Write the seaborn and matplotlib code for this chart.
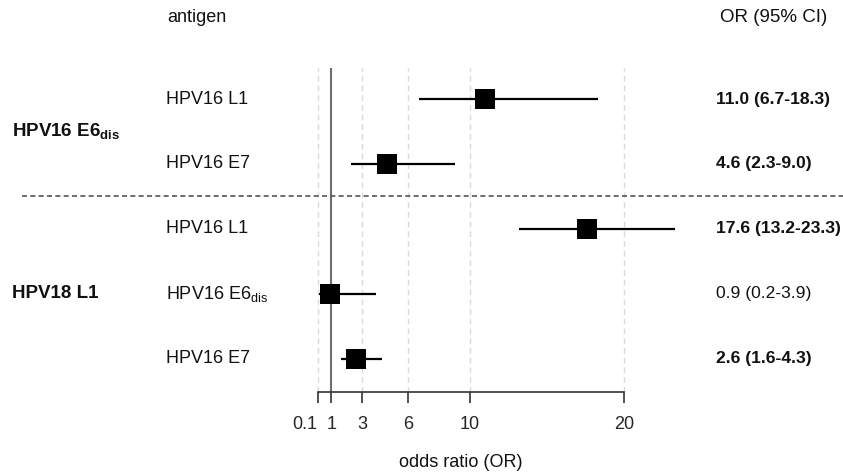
"""Forest plot of odds ratios for HPV antigen combinations."""

import matplotlib.pyplot as plt
import matplotlib.transforms as mtransforms
import pandas as pd
import seaborn as sns

sns.set_theme(style="white")
plt.rcParams["font.family"] = ["Liberation Sans", "DejaVu Sans"]
plt.rcParams["mathtext.fontset"] = "custom"
plt.rcParams["mathtext.rm"] = "Liberation Sans"
plt.rcParams["mathtext.bf"] = "Liberation Sans:bold"

SUB = "$_{\\mathregular{dis}}$"

groups = [f"HPV16 E6{SUB}", "HPV18 L1"]
group_rows = [0.5, 3]
antigens = ["HPV16 L1", "HPV16 E7", "HPV16 L1", f"HPV16 E6{SUB}", "HPV16 E7"]
or_vals = [11.0, 4.6, 17.6, 0.9, 2.6]
ci_low = [6.7, 2.3, 13.2, 0.2, 1.6]
ci_high = [18.3, 9.0, 23.3, 3.9, 4.3]
significant = [True, True, True, False, True]
ticks = [0.1, 1, 3, 6, 10, 20]
tick_labels = ["0.1", "1", "3", "6", "10", "20"]

df = pd.DataFrame({"antigen": antigens, "OR": or_vals, "lo": ci_low, "hi": ci_high,
                   "sig": significant})
df["row"] = range(len(df))

W, H = 843, 473
fig = plt.figure(figsize=(W / 100, H / 100), dpi=100)
ax = fig.add_axes([316 / W, 81 / H, 385 / W, 324 / H])
ax.set_xlim(0, 25)
ax.set_ylim(4.508, -0.477)

# grid and reference line
for t in ticks:
    if t != 1:
        ax.axvline(t, color="#d9d9d9", lw=1, ls=(0, (4, 3)), zorder=0)
ax.axvline(1, color="#6e6e6e", lw=1.5, zorder=1)

ax.hlines(df["row"], df["lo"], df["hi"], color="black", lw=1.6, zorder=2)
sns.scatterplot(data=df, x="OR", y="row", marker="s", s=210, color="black",
                linewidth=0, zorder=3, ax=ax, legend=False)

sns.despine(ax=ax, left=True)
ax.spines["bottom"].set_bounds(0.1, 20)
ax.spines["bottom"].set_color("#333333")
ax.spines["bottom"].set_linewidth(1.2)
ax.set_yticks([])
ax.set_xticks(ticks)
ax.set_xticklabels(tick_labels)
ax.tick_params(axis="x", bottom=True, length=8, width=1.2, color="#333333",
               pad=9, labelsize=13)
ax.get_xticklabels()[0].set_horizontalalignment("right")
ax.set_xlabel("")
ax.set_ylabel("")

blend = mtransforms.blended_transform_factory(fig.transFigure, ax.transData)

for _, r in df.iterrows():
    ax.text(166 / W, r["row"], r["antigen"], transform=blend, fontsize=13,
            va="center", ha="left", color="#111111")
    label = f"{r['OR']:.1f} ({r['lo']:.1f}-{r['hi']:.1f})"
    ax.text(716 / W, r["row"], label, transform=blend, fontsize=12.6, va="center",
            ha="left", fontweight="bold" if r["sig"] else "normal", color="#111111")

for g, y in zip(groups, group_rows):
    ax.text(12 / W, y, g, transform=blend, fontsize=13.5, va="center", ha="left",
            fontweight="bold", color="#111111")

ax.plot([22 / W, 1], [1.5, 1.5], transform=blend, color="#555555", lw=1.2,
        ls=(0, (3, 2)), clip_on=False)

fig.text(167 / W, 1 - 18 / H, "antigen", fontsize=13, va="center", ha="left",
         color="#111111")
fig.text(720 / W, 1 - 18 / H, "OR (95% CI)", fontsize=13.5, va="center", ha="left",
         color="#111111")
fig.text(461 / W, 1 - 462 / H, "odds ratio (OR)", fontsize=13, va="center",
         ha="center", color="#111111")

fig.savefig("out.png", dpi=100)
